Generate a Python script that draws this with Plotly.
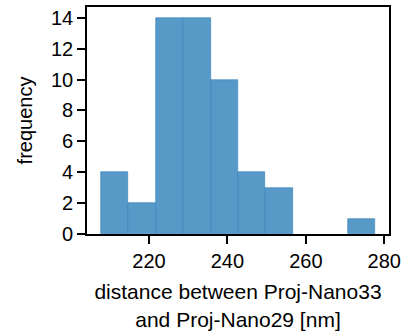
import plotly.graph_objects as go

# histogram data
bin_edges = [207.7, 214.7, 221.7, 228.7, 235.7, 242.7, 249.7, 256.7, 263.7, 270.7, 277.7]
counts = [4, 2, 14, 14, 10, 4, 3, 0, 0, 1]
x_ticks = [220, 240, 260, 280]
y_ticks = [0, 2, 4, 6, 8, 10, 12, 14]

centers = [(a + b) / 2 for a, b in zip(bin_edges[:-1], bin_edges[1:])]
widths = [b - a for a, b in zip(bin_edges[:-1], bin_edges[1:])]
edge_widths = [0.6 if c > 0 else 0 for c in counts]

FONT = "Liberation Sans, Arial, sans-serif"

fig = go.Figure(
    go.Bar(
        x=centers,
        y=counts,
        width=widths,
        marker=dict(color="#5799c7", line=dict(color="#3482ba", width=edge_widths)),
        hoverinfo="x+y",
    )
)

axis_common = dict(
    showline=True,
    linecolor="black",
    linewidth=1.6,
    mirror=True,
    ticks="outside",
    ticklen=8,
    tickwidth=1.6,
    tickcolor="black",
    showgrid=False,
    zeroline=False,
    automargin=False,
    tickfont=dict(family=FONT, size=20, color="black"),
)

fig.update_layout(
    width=403,
    height=333,
    margin=dict(l=87, r=14, t=7, b=99),
    paper_bgcolor="white",
    plot_bgcolor="white",
    showlegend=False,
    bargap=0,
    font=dict(family=FONT, size=20, color="black"),
    xaxis=dict(
        range=[204.2, 281.2],
        tickvals=x_ticks,
        title=dict(
            text="distance between Proj-Nano33<br>and Proj-Nano29 [nm]",
            font=dict(family=FONT, size=21, color="black"),
            standoff=14,
        ),
        **axis_common,
    ),
    yaxis=dict(
        range=[0, 14.7],
        tickvals=y_ticks,
        title=dict(text="frequency", font=dict(family=FONT, size=20, color="black"), standoff=13),
        **axis_common,
    ),
)

fig.write_html(
    "out.html",
    config={"displayModeBar": False},
    post_script="document.body.style.margin='0';document.body.style.overflow='hidden';",
)
